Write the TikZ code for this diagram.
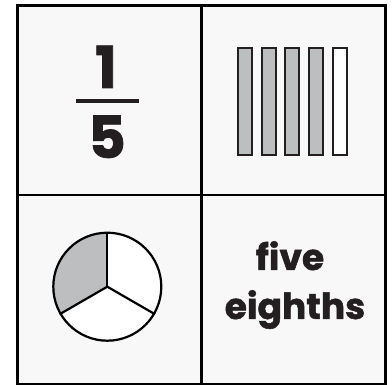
\documentclass[tikz,border=0pt]{standalone}
\usepackage{fontspec}
\setmainfont{Poppins}[BoldFeatures={FakeBold=1.3}]
\definecolor{ink}{HTML}{231F20}
\definecolor{bargray}{HTML}{BCBEC0}
\definecolor{cellbg}{HTML}{F8F8F8}
\begin{document}
\begin{tikzpicture}[x=1pt,y=-1pt,
  cell/.style={draw=black,line width=2.5pt,fill=cellbg,minimum width=184pt,minimum height=189.5pt,inner sep=0pt,anchor=north west},
  barbox/.style={draw=ink,line width=2pt,minimum width=14pt,minimum height=107pt,inner sep=0pt},
  numtxt/.style={text=ink,font=\fontsize{58}{58}\selectfont\bfseries,inner sep=0pt},
  wordtxt/.style={text=ink,font=\fontsize{36}{36}\selectfont\bfseries,inner sep=0pt,align=center},
  piece/.style={draw=black,line width=2.2pt,line join=round}]
\useasboundingbox (0,0) rectangle (392,385);
\fill[white] (0,0) rectangle (392,385);
\node[cell] (c11) at (16,4.5) {};
\node[cell] (c12) at (200,4.5) {};
\node[cell] (c21) at (16,194) {};
\node[cell] (c22) at (200,194) {};
% fraction
\node[numtxt,anchor=base] (one) at (106,88) {1};
\node[numtxt,anchor=base] (five) at (107,158) {5};
\coordinate (barL) at (76,101);
\coordinate (barR) at (139,101);
\draw[ink,line width=4.5pt] (barL) -- (barR);
% bars
\foreach \i/\x/\f in {1/245.3/bargray,2/268.9/bargray,3/292.3/bargray,4/315.7/bargray,5/339.5/white}
  \node[barbox,fill=\f] (bar\i) at (\x,101.3) {};
% pie (y axis points down, so angles run clockwise)
\coordinate (pc) at (107.3,286.7);
\fill[bargray] (pc) -- ++(150:54) arc[start angle=150,end angle=270,radius=54] -- cycle;
\fill[white] (pc) -- ++(270:54) arc[start angle=270,end angle=510,radius=54] -- cycle;
\node[draw=black,line width=2.2pt,circle,minimum size=108pt,inner sep=0pt] (pie) at (pc) {};
\draw[piece] (pc) -- (pie.90);
\draw[piece] (pc) -- (pie.-150);
\draw[piece] (pc) -- (pie.-30);
% words
\node[wordtxt,anchor=base] (w1) at (290,270) {five};
\node[wordtxt,anchor=base] (w2) at (295,319) {eighths};
\end{tikzpicture}
\end{document}
